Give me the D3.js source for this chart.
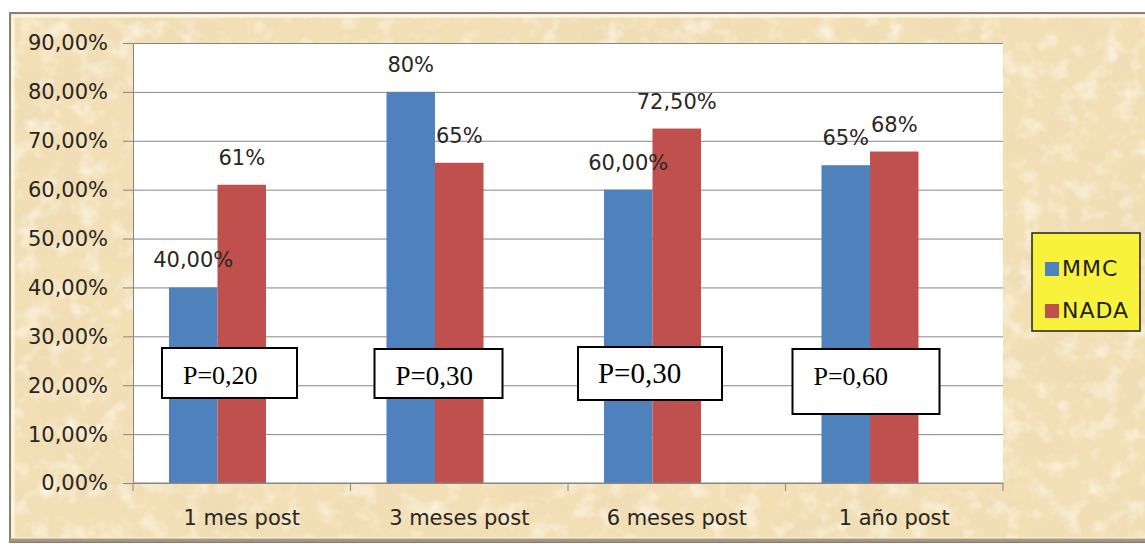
<!DOCTYPE html>
<html>
<head>
<meta charset="utf-8">
<script src="https://cdn.jsdelivr.net/npm/d3@7"></script>
<style>
  body { margin: 0; background: #ffffff; }
  svg { display: block; }
</style>
</head>
<body>
<svg id="chart" width="1145" height="544"></svg>
<script>
// data
var categories = ['1 mes post', '3 meses post', '6 meses post', '1 año post'];
var seriesNames = ['MMC', 'NADA'];
var seriesColors = ['#4f81bd', '#c0504d'];
var mmcValues = [40, 80, 60, 65];
var nadaValues = [61, 65.5, 72.5, 67.8];
var mmcLabels = ['40,00%', '80%', '60,00%', '65%'];
var nadaLabels = ['61%', '65%', '72,50%', '68%'];
var pLabels = ['P=0,20', 'P=0,30', 'P=0,30', 'P=0,60'];
var yTicks = [0, 10, 20, 30, 40, 50, 60, 70, 80, 90];

var svg = d3.select('#chart');
var plot = { left: 133, right: 1003, top: 43, bottom: 483 };

// parchment background
var defs = svg.append('defs');
var f = defs.append('filter').attr('id', 'paper')
    .attr('x', 0).attr('y', 0).attr('width', '100%').attr('height', '100%');
f.append('feTurbulence').attr('type', 'fractalNoise')
    .attr('baseFrequency', '0.012 0.02').attr('numOctaves', 5).attr('seed', 7);
f.append('feColorMatrix').attr('type', 'matrix')
    .attr('values', '0 0 0 0 0.82  0 0 0 0 0.68  0 0 0 0 0.45  1.1 0 0 0 -0.52');
var f2 = defs.append('filter').attr('id', 'speck')
    .attr('x', 0).attr('y', 0).attr('width', '100%').attr('height', '100%');
f2.append('feTurbulence').attr('type', 'fractalNoise')
    .attr('baseFrequency', '0.05').attr('numOctaves', 3).attr('seed', 3);
f2.append('feColorMatrix').attr('type', 'matrix')
    .attr('values', '0 0 0 0 1  0 0 0 0 0.98  0 0 0 0 0.9  0 1.6 0 0 -0.78');

var frame = svg.append('g');
frame.append('rect').attr('x', 10).attr('y', 13).attr('width', 1140).attr('height', 529)
    .attr('fill', '#f2dfb6');
frame.append('rect').attr('x', 10).attr('y', 13).attr('width', 1140).attr('height', 529)
    .attr('filter', 'url(#paper)');
frame.append('rect').attr('x', 10).attr('y', 13).attr('width', 1140).attr('height', 529)
    .attr('filter', 'url(#speck)');
// bevel edges
frame.append('rect').attr('x', 13).attr('y', 16).attr('width', 1140).attr('height', 523)
    .attr('fill', 'none').attr('stroke', '#fffbe8').attr('stroke-width', 3).attr('opacity', 0.8);
frame.append('rect').attr('x', 10).attr('y', 13).attr('width', 1140).attr('height', 529)
    .attr('fill', 'none').attr('stroke', '#8b8079').attr('stroke-width', 2);
frame.append('line').attr('x1', 10).attr('x2', 1145).attr('y1', 540).attr('y2', 540)
    .attr('stroke', '#a8987f').attr('stroke-width', 3);

// scales
var x0 = d3.scaleBand().domain(categories)
    .range([plot.left, plot.right]).paddingInner(0.331).paddingOuter(0.1655);
// third slot is an empty series, as in the original chart
var x1 = d3.scaleBand().domain([0, 1, 2]).range([0, x0.bandwidth()]);
var y = d3.scaleLinear().domain([0, 90]).range([plot.bottom, plot.top]);

svg.append('rect')
    .attr('x', plot.left).attr('y', plot.top)
    .attr('width', plot.right - plot.left).attr('height', plot.bottom - plot.top)
    .attr('fill', '#ffffff');

// gridlines + left ticks
var grid = svg.append('g').attr('transform', 'translate(' + (plot.left - 10) + ',0)')
    .call(d3.axisRight(y).tickValues(yTicks).tickSize(plot.right - plot.left + 10).tickFormat(''));
grid.select('.domain').remove();
grid.selectAll('line').attr('stroke', '#868686');

var fmt = function (v) { return d3.format('.2f')(v).replace('.', ',') + '%'; };
var yAxis = svg.append('g').attr('transform', 'translate(' + plot.left + ',0)')
    .call(d3.axisLeft(y).tickValues(yTicks).tickSize(0).tickPadding(25).tickFormat(fmt));
yAxis.select('.domain').attr('stroke', '#868686');
yAxis.selectAll('text')
    .attr('font-family', 'DejaVu Sans').attr('font-size', 21).attr('fill', '#2a2622')
    .attr('dy', '0.33em');

// bars
var seriesValues = [mmcValues, nadaValues];
var seriesLabels = [mmcLabels, nadaLabels];
var barData = [];
categories.forEach(function (c, i) {
    seriesValues.forEach(function (vals, s) {
        barData.push({ cat: c, s: s, v: vals[i], label: seriesLabels[s][i] });
    });
});

svg.selectAll('.bar').data(barData).enter().append('rect')
    .attr('class', 'bar')
    .attr('x', function (d) { return x0(d.cat) + x1(d.s); })
    .attr('width', x1.bandwidth())
    .attr('y', function (d) { return y(d.v); })
    .attr('height', function (d) { return y(0) - y(d.v); })
    .attr('fill', function (d) { return seriesColors[d.s]; });

// x axis
var xAxisLine = svg.append('g');
xAxisLine.append('line')
    .attr('x1', plot.left).attr('x2', plot.right).attr('y1', plot.bottom).attr('y2', plot.bottom)
    .attr('stroke', '#868686');
var bounds = categories.map(function (c) { return x0(c) - x0.step() * x0.paddingInner() / 2; });
bounds.push(plot.right);
xAxisLine.selectAll('.xtick').data(bounds).enter().append('line')
    .attr('x1', function (d) { return d; }).attr('x2', function (d) { return d; })
    .attr('y1', plot.bottom).attr('y2', plot.bottom + 8)
    .attr('stroke', '#868686');
svg.selectAll('.xlabel').data(categories).enter().append('text')
    .attr('x', function (d) { return x0(d) + x0.bandwidth() / 2; })
    .attr('y', 525)
    .attr('text-anchor', 'middle')
    .attr('font-family', 'DejaVu Sans').attr('font-size', 21).attr('fill', '#2a2622')
    .text(function (d) { return d; });

// data labels
svg.selectAll('.dlabel').data(barData).enter().append('text')
    .attr('x', function (d) { return x0(d.cat) + x1(d.s) + x1.bandwidth() / 2; })
    .attr('y', function (d) { return y(d.v) - 20; })
    .attr('text-anchor', 'middle')
    .attr('font-family', 'DejaVu Sans').attr('font-size', 21).attr('fill', '#2a2622')
    .text(function (d) { return d.label; });

// P-value boxes (hand placed in the original)
var pBoxLayout = [
    { dx: -7, top: 348, w: 135, h: 50, fs: 26, tx: 21 },
    { dx: -12, top: 349, w: 128, h: 49, fs: 27, tx: 21 },
    { dx: -26, top: 347, w: 144, h: 53, fs: 29, tx: 20 },
    { dx: -29, top: 349, w: 147, h: 65, fs: 26, tx: 21 }
];
var pBox = svg.selectAll('.pbox').data(pLabels).enter().append('g')
    .attr('transform', function (d, i) {
        return 'translate(' + (x0(categories[i]) + pBoxLayout[i].dx) + ',' + pBoxLayout[i].top + ')';
    });
pBox.append('rect')
    .attr('width', function (d, i) { return pBoxLayout[i].w; })
    .attr('height', function (d, i) { return pBoxLayout[i].h; })
    .attr('fill', '#ffffff').attr('stroke', '#000').attr('stroke-width', 2);
pBox.append('text')
    .attr('x', function (d, i) { return pBoxLayout[i].tx; })
    .attr('y', 36)
    .attr('font-family', 'Liberation Serif').attr('fill', '#000')
    .attr('font-size', function (d, i) { return pBoxLayout[i].fs; })
    .text(function (d) { return d; });

// legend
var legend = svg.append('g').attr('transform', 'translate(1032,233)');
legend.append('rect').attr('width', 108).attr('height', 98)
    .attr('fill', '#f9f23c').attr('stroke', '#222').attr('stroke-width', 1.5);
var li = legend.selectAll('.li').data(seriesNames).enter().append('g')
    .attr('transform', function (d, i) { return 'translate(13,' + (29 + i * 42) + ')'; });
li.append('rect').attr('width', 14).attr('height', 14)
    .attr('fill', function (d, i) { return seriesColors[i]; });
li.append('text').attr('x', 17).attr('y', 14)
    .attr('font-family', 'DejaVu Sans').attr('font-size', 22).attr('letter-spacing', 1)
    .attr('fill', '#1e1e1e')
    .text(function (d) { return d; });
</script>
</body>
</html>
